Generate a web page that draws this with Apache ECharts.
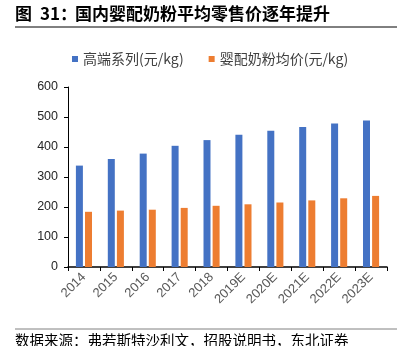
<!DOCTYPE html>
<html><head><meta charset="utf-8">
<script src="https://cdn.jsdelivr.net/npm/echarts@6/dist/echarts.min.js"></script>
<style>html,body{margin:0;padding:0;background:#fff}#c{width:407px;height:346px}</style>
</head><body><div id="c"></div>
<script>
const categories = ['2014','2015','2016','2017','2018','2019E','2020E','2021E','2022E','2023E'];
const highEnd = [338,360,378,404,423,441,454,467,478,488];
const avgPrice = [184,188,191,197,204,209,215,222,229,237];
const seriesNames = ['高端系列(元/kg)','婴配奶粉均价(元/kg)'];
const titleFig = '图';
const titleNum = '31：';
const titleText = '国内婴配奶粉平均零售价逐年提升';
const sourceText = '数据来源：弗若斯特沙利文，招股说明书，东北证券';

const chart = echarts.init(document.getElementById('c'), null, {renderer:'canvas'});
const tf = 'bold 17px "Noto Sans CJK SC"';
chart.setOption({
  animation:false,
  backgroundColor:'#fff',
  graphic:[
    {type:'text', left:15, top:5, style:{text:titleFig, font:tf, fill:'#000'}},
    {type:'text', left:40, top:5, style:{text:titleNum, font:tf, fill:'#000'}},
    {type:'text', left:75, top:5, style:{text:titleText, font:tf, fill:'#000'}},
    {type:'line', shape:{x1:15,y1:27,x2:397,y2:27}, style:{stroke:'#000', lineWidth:1}},
    {type:'line', shape:{x1:15,y1:329,x2:397,y2:329}, style:{stroke:'#808080', lineWidth:1}},
    {type:'text', left:15, top:333, style:{text:sourceText, font:'14.5px "Noto Sans CJK SC"', fill:'#000'}}
  ],
  legend:{
    top:52, left:72, padding:0, icon:'rect', itemWidth:6, itemHeight:6, itemGap:25,
    textStyle:{fontFamily:'"Noto Sans CJK SC"', fontSize:14, color:'#404040'},
    data:seriesNames
  },
  grid:{left:68, right:20, top:87, bottom:79, containLabel:false},
  xAxis:{
    type:'category', data:categories,
    axisLine:{lineStyle:{color:'#000', width:1.5}},
    axisTick:{show:true, length:4, lineStyle:{color:'#000'}},
    axisLabel:{rotate:45, margin:8, color:'#595959', fontFamily:'"Liberation Sans", Arial', fontSize:13, interval:0}
  },
  yAxis:{
    type:'value', min:0, max:600, interval:100,
    splitLine:{show:false},
    axisLine:{show:true, lineStyle:{color:'#000', width:1}},
    axisTick:{show:true, length:4, lineStyle:{color:'#000'}},
    axisLabel:{margin:10, color:'#262626', fontFamily:'"Liberation Sans", Arial', fontSize:12.5}
  },
  series:[
    {name:seriesNames[0], type:'bar', data:highEnd, barWidth:7, barGap:'30%', itemStyle:{color:'#4472C4'}},
    {name:seriesNames[1], type:'bar', data:avgPrice, barWidth:7, barGap:'30%', itemStyle:{color:'#ED7D31'}}
  ]
});
</script></body></html>
